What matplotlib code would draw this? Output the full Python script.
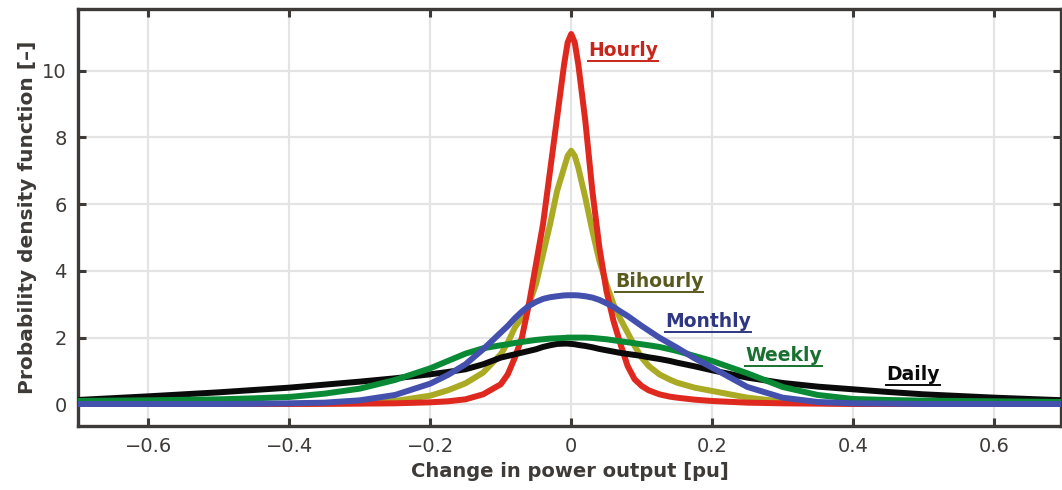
import matplotlib
matplotlib.use("Agg")
import matplotlib.pyplot as plt

# change in power output [pu]
x = [-0.7, -0.6, -0.5, -0.45, -0.4, -0.35, -0.3, -0.25, -0.2, -0.175, -0.15, -0.125,
     -0.1, -0.09, -0.08, -0.07, -0.06, -0.05, -0.04, -0.03, -0.02, -0.01, -0.005, 0.0,
     0.005, 0.01, 0.02, 0.03, 0.04, 0.05, 0.06, 0.07, 0.08, 0.09, 0.1, 0.11, 0.125,
     0.14, 0.15, 0.175, 0.2, 0.25, 0.3, 0.35, 0.4, 0.45, 0.5, 0.6, 0.7]

hourly = [0.01, 0.01, 0.01, 0.01, 0.01, 0.015, 0.02, 0.03, 0.06, 0.09, 0.15, 0.3,
          0.6, 0.9, 1.4, 2.0, 3.0, 4.2, 5.4, 7.0, 8.6, 10.2, 10.85, 11.1,
          10.85, 10.2, 8.5, 6.4, 4.7, 3.4, 2.5, 1.8, 1.15, 0.75, 0.55, 0.42, 0.3,
          0.23, 0.2, 0.14, 0.1, 0.05, 0.03, 0.02, 0.01, 0.01, 0.01, 0.01, 0.01]

bihourly = [0.01, 0.01, 0.01, 0.01, 0.01, 0.02, 0.04, 0.1, 0.26, 0.42, 0.63, 0.95,
            1.5, 1.85, 2.3, 2.6, 3.0, 3.6, 4.5, 5.4, 6.4, 7.1, 7.45, 7.6,
            7.45, 7.1, 6.2, 5.2, 4.3, 3.6, 3.0, 2.55, 2.15, 1.75, 1.4, 1.15, 0.9,
            0.74, 0.65, 0.5, 0.4, 0.2, 0.08, 0.04, 0.02, 0.01, 0.01, 0.01, 0.01]

daily = [0.13, 0.24, 0.36, 0.43, 0.5, 0.59, 0.68, 0.78, 0.9, 0.97, 1.05, 1.2,
         1.4, 1.45, 1.5, 1.55, 1.6, 1.65, 1.72, 1.77, 1.81, 1.82, 1.82, 1.81,
         1.8, 1.78, 1.75, 1.71, 1.66, 1.62, 1.58, 1.54, 1.51, 1.48, 1.45, 1.41, 1.36,
         1.3, 1.25, 1.14, 1.02, 0.8, 0.64, 0.53, 0.45, 0.37, 0.3, 0.2, 0.12]

weekly = [0.1, 0.12, 0.15, 0.18, 0.22, 0.32, 0.47, 0.73, 1.08, 1.3, 1.52, 1.68,
          1.77, 1.8, 1.84, 1.87, 1.9, 1.93, 1.95, 1.97, 1.98, 1.99, 2.0, 2.0,
          2.0, 2.0, 2.0, 1.99, 1.97, 1.95, 1.92, 1.89, 1.86, 1.83, 1.8, 1.77, 1.72,
          1.65, 1.6, 1.45, 1.3, 0.93, 0.52, 0.28, 0.16, 0.13, 0.11, 0.09, 0.07]

monthly = [0.01, 0.01, 0.01, 0.015, 0.03, 0.05, 0.12, 0.28, 0.62, 0.88, 1.2, 1.65,
           2.15, 2.35, 2.58, 2.78, 2.95, 3.07, 3.16, 3.21, 3.24, 3.265, 3.27, 3.27,
           3.27, 3.265, 3.24, 3.2, 3.13, 3.03, 2.92, 2.78, 2.65, 2.5, 2.35, 2.21, 2.0,
           1.82, 1.7, 1.38, 1.1, 0.52, 0.2, 0.07, 0.03, 0.02, 0.01, 0.01, 0.01]

labels = ["Hourly", "Bihourly", "Monthly", "Weekly", "Daily"]
label_x = [0.024, 0.062, 0.133, 0.247, 0.447]
label_y = [10.6, 3.69, 2.49, 1.47, 0.9]

line_colors = {"Hourly": "#df281e", "Bihourly": "#aaaa24", "Daily": "#0a0a0a",
               "Weekly": "#0b8a36", "Monthly": "#4350ae"}
text_colors = {"Hourly": "#c8261c", "Bihourly": "#5a5a1e", "Daily": "#0a0a0a",
               "Weekly": "#197030", "Monthly": "#2f3682"}

series = {"Hourly": hourly, "Bihourly": bihourly, "Daily": daily,
          "Weekly": weekly, "Monthly": monthly}

dark = "#3d3a38"
plt.rcParams['font.family'] = ['DejaVu Sans']

fig = plt.figure(figsize=(10.62, 4.9), dpi=100)
ax = fig.add_axes([0.0734, 0.1306, 0.9256, 0.851])

for name in ["Bihourly", "Hourly", "Daily", "Weekly", "Monthly"]:
    ax.plot(x, series[name], color=line_colors[name], lw=4.3,
            solid_joinstyle="round", solid_capstyle="butt", zorder=3)

ax.set_xlim(-0.7, 0.695)
ax.set_ylim(-0.65, 11.85)
ax.set_xticks([-0.6, -0.4, -0.2, 0, 0.2, 0.4, 0.6])
ax.set_xticklabels(["\u22120.6", "\u22120.4", "\u22120.2", "0", "0.2", "0.4", "0.6"])
ax.set_yticks([0, 2, 4, 6, 8, 10])

ax.grid(True, color="#e4e4e4", lw=1.6, zorder=0)
for s in ax.spines.values():
    s.set_color(dark)
    s.set_linewidth(2.4)
ax.tick_params(direction="in", length=6, width=2.2, color=dark,
               top=True, right=True, labelsize=14, labelcolor=dark, pad=8)

ax.set_xlabel("Change in power output [pu]", fontsize=14, fontweight="bold",
              color=dark, labelpad=4)
ax.set_ylabel("Probability density function [\u2013]", fontsize=14.5,
              fontweight="bold", color=dark, labelpad=4)

texts = []
for name, lx, ly in zip(labels, label_x, label_y):
    t = ax.text(lx, ly, name, color=text_colors[name], fontsize=13.5,
                fontweight="bold", ha="left", va="center", zorder=5)
    texts.append((name, t))

# underline each label
fig.canvas.draw()
inv = ax.transData.inverted()
for name, t in texts:
    bb = t.get_window_extent()
    (x0, y0), (x1, _) = inv.transform([(bb.x0, bb.y0 - 1), (bb.x1, bb.y0)])
    ax.plot([x0, x1], [y0, y0], color=text_colors[name], lw=1.4, zorder=5)

fig.savefig("out.png", dpi=100)
